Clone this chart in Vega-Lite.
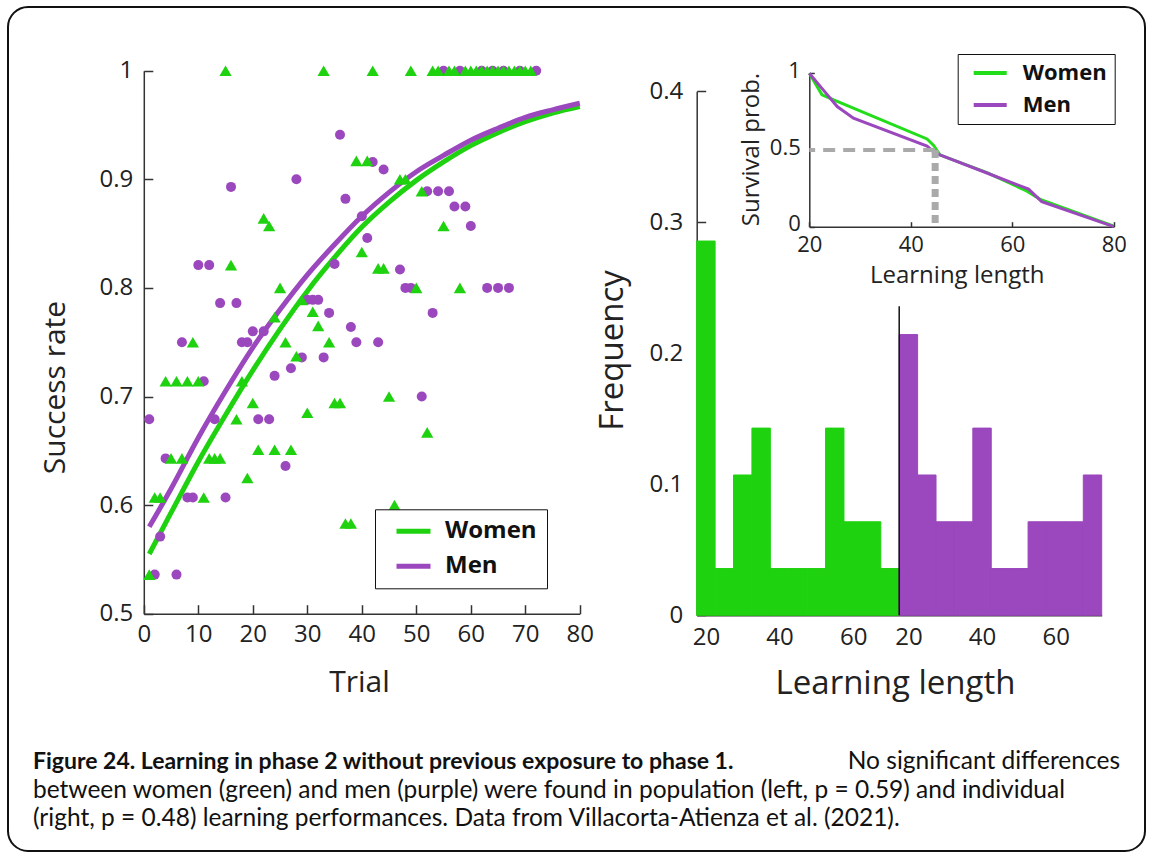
{
  "$schema": "https://vega.github.io/schema/vega-lite/v6.json",
  "width": 1137,
  "height": 844,
  "padding": {"left": 8, "top": 7, "right": 6, "bottom": 5},
  "autosize": "none",
  "background": "white",
  "config": {
    "view": {"stroke": "#111", "strokeWidth": 2, "cornerRadius": 20},
    "axis": {"grid": false, "zindex": 1, "labelFont": "Open Sans", "titleFont": "Open Sans", "labelColor": "#222", "titleColor": "#222", "titleFontWeight": "normal", "domainColor": "#333", "tickColor": "#333", "domainWidth": 1.5, "tickWidth": 1.5, "labelFlush": false, "labelOverlap": false}
  },
  "datasets": {
    "points": [
      {"sex": "Women", "trial": 1, "rate": 0.536}, {"sex": "Women", "trial": 2, "rate": 0.607}, {"sex": "Women", "trial": 3, "rate": 0.607},
      {"sex": "Women", "trial": 4, "rate": 0.714}, {"sex": "Women", "trial": 5, "rate": 0.643}, {"sex": "Women", "trial": 6, "rate": 0.714},
      {"sex": "Women", "trial": 7, "rate": 0.643}, {"sex": "Women", "trial": 8, "rate": 0.714}, {"sex": "Women", "trial": 9, "rate": 0.75},
      {"sex": "Women", "trial": 10, "rate": 0.714}, {"sex": "Women", "trial": 11, "rate": 0.607}, {"sex": "Women", "trial": 12, "rate": 0.643},
      {"sex": "Women", "trial": 13, "rate": 0.643}, {"sex": "Women", "trial": 14, "rate": 0.643}, {"sex": "Women", "trial": 15, "rate": 1.0},
      {"sex": "Women", "trial": 16, "rate": 0.821}, {"sex": "Women", "trial": 17, "rate": 0.679}, {"sex": "Women", "trial": 18, "rate": 0.714},
      {"sex": "Women", "trial": 19, "rate": 0.625}, {"sex": "Women", "trial": 20, "rate": 0.694}, {"sex": "Women", "trial": 21, "rate": 0.651},
      {"sex": "Women", "trial": 22, "rate": 0.864}, {"sex": "Women", "trial": 23, "rate": 0.857}, {"sex": "Women", "trial": 24, "rate": 0.651},
      {"sex": "Women", "trial": 24, "rate": 0.773}, {"sex": "Women", "trial": 25, "rate": 0.8}, {"sex": "Women", "trial": 26, "rate": 0.75},
      {"sex": "Women", "trial": 27, "rate": 0.651}, {"sex": "Women", "trial": 28, "rate": 0.737}, {"sex": "Women", "trial": 29, "rate": 0.789},
      {"sex": "Women", "trial": 30, "rate": 0.685}, {"sex": "Women", "trial": 31, "rate": 0.778}, {"sex": "Women", "trial": 32, "rate": 0.765},
      {"sex": "Women", "trial": 33, "rate": 1.0}, {"sex": "Women", "trial": 34, "rate": 0.75}, {"sex": "Women", "trial": 35, "rate": 0.694},
      {"sex": "Women", "trial": 36, "rate": 0.694}, {"sex": "Women", "trial": 37, "rate": 0.583}, {"sex": "Women", "trial": 38, "rate": 0.583},
      {"sex": "Women", "trial": 39, "rate": 0.917}, {"sex": "Women", "trial": 40, "rate": 0.833}, {"sex": "Women", "trial": 41, "rate": 0.917},
      {"sex": "Women", "trial": 42, "rate": 1.0}, {"sex": "Women", "trial": 43, "rate": 0.818}, {"sex": "Women", "trial": 44, "rate": 0.818},
      {"sex": "Women", "trial": 45, "rate": 0.7}, {"sex": "Women", "trial": 46, "rate": 0.6}, {"sex": "Women", "trial": 47, "rate": 0.9},
      {"sex": "Women", "trial": 48, "rate": 0.9}, {"sex": "Women", "trial": 49, "rate": 1.0}, {"sex": "Women", "trial": 50, "rate": 0.8},
      {"sex": "Women", "trial": 51, "rate": 0.889}, {"sex": "Women", "trial": 52, "rate": 0.667}, {"sex": "Women", "trial": 53, "rate": 1.0},
      {"sex": "Women", "trial": 54, "rate": 1.0}, {"sex": "Women", "trial": 55, "rate": 0.857}, {"sex": "Women", "trial": 56, "rate": 1.0},
      {"sex": "Women", "trial": 57, "rate": 1.0}, {"sex": "Women", "trial": 58, "rate": 0.8}, {"sex": "Women", "trial": 59, "rate": 1.0},
      {"sex": "Women", "trial": 60, "rate": 1.0}, {"sex": "Women", "trial": 61, "rate": 1.0}, {"sex": "Women", "trial": 62, "rate": 1.0},
      {"sex": "Women", "trial": 63, "rate": 1.0}, {"sex": "Women", "trial": 64, "rate": 1.0}, {"sex": "Women", "trial": 65, "rate": 1.0},
      {"sex": "Women", "trial": 66, "rate": 1.0}, {"sex": "Women", "trial": 67, "rate": 1.0}, {"sex": "Women", "trial": 68, "rate": 1.0},
      {"sex": "Women", "trial": 69, "rate": 1.0}, {"sex": "Women", "trial": 70, "rate": 1.0}, {"sex": "Women", "trial": 71, "rate": 1.0},
      {"sex": "Men", "trial": 1, "rate": 0.679}, {"sex": "Men", "trial": 2, "rate": 0.536}, {"sex": "Men", "trial": 3, "rate": 0.571},
      {"sex": "Men", "trial": 4, "rate": 0.643}, {"sex": "Men", "trial": 6, "rate": 0.536}, {"sex": "Men", "trial": 7, "rate": 0.75},
      {"sex": "Men", "trial": 8, "rate": 0.607}, {"sex": "Men", "trial": 9, "rate": 0.607}, {"sex": "Men", "trial": 10, "rate": 0.821},
      {"sex": "Men", "trial": 11, "rate": 0.714}, {"sex": "Men", "trial": 12, "rate": 0.821}, {"sex": "Men", "trial": 13, "rate": 0.679},
      {"sex": "Men", "trial": 14, "rate": 0.786}, {"sex": "Men", "trial": 15, "rate": 0.607}, {"sex": "Men", "trial": 16, "rate": 0.893},
      {"sex": "Men", "trial": 17, "rate": 0.786}, {"sex": "Men", "trial": 18, "rate": 0.75}, {"sex": "Men", "trial": 19, "rate": 0.75},
      {"sex": "Men", "trial": 20, "rate": 0.76}, {"sex": "Men", "trial": 21, "rate": 0.679}, {"sex": "Men", "trial": 22, "rate": 0.76},
      {"sex": "Men", "trial": 23, "rate": 0.679}, {"sex": "Men", "trial": 24, "rate": 0.719}, {"sex": "Men", "trial": 26, "rate": 0.636},
      {"sex": "Men", "trial": 27, "rate": 0.726}, {"sex": "Men", "trial": 28, "rate": 0.9}, {"sex": "Men", "trial": 29, "rate": 0.736},
      {"sex": "Men", "trial": 30, "rate": 0.789}, {"sex": "Men", "trial": 31, "rate": 0.789}, {"sex": "Men", "trial": 32, "rate": 0.789},
      {"sex": "Men", "trial": 33, "rate": 0.736}, {"sex": "Men", "trial": 34, "rate": 0.777}, {"sex": "Men", "trial": 35, "rate": 0.822},
      {"sex": "Men", "trial": 36, "rate": 0.941}, {"sex": "Men", "trial": 37, "rate": 0.882}, {"sex": "Men", "trial": 38, "rate": 0.764},
      {"sex": "Men", "trial": 39, "rate": 0.75}, {"sex": "Men", "trial": 40, "rate": 0.866}, {"sex": "Men", "trial": 41, "rate": 0.846},
      {"sex": "Men", "trial": 42, "rate": 0.916}, {"sex": "Men", "trial": 43, "rate": 0.75}, {"sex": "Men", "trial": 44, "rate": 0.909},
      {"sex": "Men", "trial": 47, "rate": 0.817}, {"sex": "Men", "trial": 48, "rate": 0.8}, {"sex": "Men", "trial": 49, "rate": 0.8},
      {"sex": "Men", "trial": 51, "rate": 0.7}, {"sex": "Men", "trial": 52, "rate": 0.889}, {"sex": "Men", "trial": 53, "rate": 0.777},
      {"sex": "Men", "trial": 54, "rate": 0.889}, {"sex": "Men", "trial": 55, "rate": 1.0}, {"sex": "Men", "trial": 56, "rate": 0.889},
      {"sex": "Men", "trial": 57, "rate": 0.875}, {"sex": "Men", "trial": 58, "rate": 1.0}, {"sex": "Men", "trial": 59, "rate": 0.875},
      {"sex": "Men", "trial": 60, "rate": 0.857}, {"sex": "Men", "trial": 62, "rate": 1.0}, {"sex": "Men", "trial": 63, "rate": 0.8},
      {"sex": "Men", "trial": 64, "rate": 1.0}, {"sex": "Men", "trial": 65, "rate": 0.8}, {"sex": "Men", "trial": 66, "rate": 1.0},
      {"sex": "Men", "trial": 67, "rate": 0.8}, {"sex": "Men", "trial": 69, "rate": 1.0}, {"sex": "Men", "trial": 72, "rate": 1.0}
    ],
    "fit": [
      {"sex": "Women", "trial": 1, "rate": 0.555}, {"sex": "Women", "trial": 5, "rate": 0.593}, {"sex": "Women", "trial": 10, "rate": 0.64},
      {"sex": "Women", "trial": 15, "rate": 0.683}, {"sex": "Women", "trial": 20, "rate": 0.724}, {"sex": "Women", "trial": 25, "rate": 0.762},
      {"sex": "Women", "trial": 30, "rate": 0.797}, {"sex": "Women", "trial": 35, "rate": 0.828}, {"sex": "Women", "trial": 40, "rate": 0.856},
      {"sex": "Women", "trial": 45, "rate": 0.879}, {"sex": "Women", "trial": 50, "rate": 0.899}, {"sex": "Women", "trial": 55, "rate": 0.916},
      {"sex": "Women", "trial": 60, "rate": 0.931}, {"sex": "Women", "trial": 65, "rate": 0.943}, {"sex": "Women", "trial": 70, "rate": 0.953},
      {"sex": "Women", "trial": 75, "rate": 0.961}, {"sex": "Women", "trial": 80, "rate": 0.967},
      {"sex": "Men", "trial": 1, "rate": 0.58}, {"sex": "Men", "trial": 5, "rate": 0.615}, {"sex": "Men", "trial": 10, "rate": 0.662},
      {"sex": "Men", "trial": 15, "rate": 0.705}, {"sex": "Men", "trial": 20, "rate": 0.745}, {"sex": "Men", "trial": 25, "rate": 0.78},
      {"sex": "Men", "trial": 30, "rate": 0.812}, {"sex": "Men", "trial": 35, "rate": 0.84}, {"sex": "Men", "trial": 40, "rate": 0.866},
      {"sex": "Men", "trial": 45, "rate": 0.888}, {"sex": "Men", "trial": 50, "rate": 0.907}, {"sex": "Men", "trial": 55, "rate": 0.922},
      {"sex": "Men", "trial": 60, "rate": 0.936}, {"sex": "Men", "trial": 65, "rate": 0.947}, {"sex": "Men", "trial": 70, "rate": 0.957},
      {"sex": "Men", "trial": 75, "rate": 0.964}, {"sex": "Men", "trial": 80, "rate": 0.97}
    ],
    "hist": [
      {"sex": "Women", "start": 17.5, "end": 22.5, "freq": 0.2857}, {"sex": "Women", "start": 22.5, "end": 27.5, "freq": 0.0357},
      {"sex": "Women", "start": 27.5, "end": 32.5, "freq": 0.1071}, {"sex": "Women", "start": 32.5, "end": 37.5, "freq": 0.1429},
      {"sex": "Women", "start": 37.5, "end": 42.5, "freq": 0.0357}, {"sex": "Women", "start": 42.5, "end": 47.5, "freq": 0.0357},
      {"sex": "Women", "start": 47.5, "end": 52.5, "freq": 0.0357}, {"sex": "Women", "start": 52.5, "end": 57.5, "freq": 0.1429},
      {"sex": "Women", "start": 57.5, "end": 62.5, "freq": 0.0714}, {"sex": "Women", "start": 62.5, "end": 67.5, "freq": 0.0714},
      {"sex": "Women", "start": 67.5, "end": 72.5, "freq": 0.0357},
      {"sex": "Men", "start": 17.5, "end": 22.5, "freq": 0.2143}, {"sex": "Men", "start": 22.5, "end": 27.5, "freq": 0.1071},
      {"sex": "Men", "start": 27.5, "end": 32.5, "freq": 0.0714}, {"sex": "Men", "start": 32.5, "end": 37.5, "freq": 0.0714},
      {"sex": "Men", "start": 37.5, "end": 42.5, "freq": 0.1429}, {"sex": "Men", "start": 42.5, "end": 47.5, "freq": 0.0357},
      {"sex": "Men", "start": 47.5, "end": 52.5, "freq": 0.0357}, {"sex": "Men", "start": 52.5, "end": 57.5, "freq": 0.0714},
      {"sex": "Men", "start": 57.5, "end": 62.5, "freq": 0.0714}, {"sex": "Men", "start": 62.5, "end": 67.5, "freq": 0.0714},
      {"sex": "Men", "start": 67.5, "end": 72.5, "freq": 0.1071}
    ],
    "survival": [
      {"sex": "Women", "length": 20, "prob": 1.0}, {"sex": "Women", "length": 22.5, "prob": 0.86}, {"sex": "Women", "length": 24.8, "prob": 0.826},
      {"sex": "Women", "length": 43.2, "prob": 0.572}, {"sex": "Women", "length": 44.5, "prob": 0.53}, {"sex": "Women", "length": 45.8, "prob": 0.467},
      {"sex": "Women", "length": 55, "prob": 0.352}, {"sex": "Women", "length": 62.9, "prob": 0.232}, {"sex": "Women", "length": 65.5, "prob": 0.178},
      {"sex": "Women", "length": 80, "prob": 0.003},
      {"sex": "Men", "length": 20, "prob": 1.0}, {"sex": "Men", "length": 22.2, "prob": 0.913}, {"sex": "Men", "length": 25.5, "prob": 0.783},
      {"sex": "Men", "length": 28.7, "prob": 0.707}, {"sex": "Men", "length": 43.2, "prob": 0.526}, {"sex": "Men", "length": 44.8, "prob": 0.478},
      {"sex": "Men", "length": 46, "prob": 0.465}, {"sex": "Men", "length": 55, "prob": 0.35}, {"sex": "Men", "length": 63.2, "prob": 0.245},
      {"sex": "Men", "length": 65.8, "prob": 0.163}, {"sex": "Men", "length": 80, "prob": 0.0}
    ],
    "median": [{"median": 44.8, "level": 0.5}],
    "caption": [
      {"segment": "title", "line": 1, "text": "Figure 24. Learning in phase 2 without previous exposure to phase 1."},
      {"segment": "lead", "line": 1, "text": "No significant differences"},
      {"segment": "body", "line": 2, "text": "between women (green) and men (purple) were found in population (left, p = 0.59) and individual"},
      {"segment": "body", "line": 3, "text": "(right, p = 0.48) learning performances. Data from Villacorta-Atienza et al. (2021)."}
    ]
  },
  "layer": [
    {
      "data": {"name": "fit"},
      "mark": {"type": "line", "strokeWidth": 5, "interpolate": "monotone"},
      "encoding": {
        "x": {"field": "trial", "type": "quantitative",
          "scale": {"domain": [0, 80], "range": [135.8, 571.8], "nice": false, "zero": false},
          "axis": {"orient": "bottom", "offset": -237.3, "values": [0, 10, 20, 30, 40, 50, 60, 70, 80], "tickSize": -9, "labelPadding": 18, "labelFontSize": 24,
            "title": "Trial", "titleFontSize": 30, "titleX": 351, "titleY": 69, "titleAlign": "center", "titleBaseline": "middle"}},
        "y": {"field": "rate", "type": "quantitative",
          "scale": {"domain": [0.5, 1], "range": [606.7, 63.7], "nice": false, "zero": false},
          "axis": {"orient": "left", "offset": -135.8, "values": [0.5, 0.6, 0.7, 0.8, 0.9, 1], "format": "~g", "tickSize": -9, "labelPadding": 20, "labelFontSize": 24,
            "title": "Success rate", "titleFontSize": 30, "titleX": -88, "titleY": 380, "titleAngle": -90, "titleAlign": "center", "titleBaseline": "middle"}},
        "color": {"field": "sex", "type": "nominal",
          "scale": {"domain": ["Women", "Men"], "range": ["#1fd20f", "#9b47bd"]},
          "legend": {"orient": "none", "legendX": 367, "legendY": 502.3, "title": null, "symbolType": "stroke", "symbolSize": 1156, "symbolStrokeWidth": 5,
            "labelFont": "Open Sans", "labelFontSize": 24, "labelFontWeight": "bold", "labelColor": "#111", "strokeColor": "#111", "fillColor": "white",
            "clipHeight": 24, "padding": 10, "rowPadding": 11, "labelOffset": 12, "symbolOffset": 9}}
      }
    },
    {
      "data": {"name": "points"},
      "transform": [{"filter": "datum.sex === 'Men'"}],
      "mark": {"type": "point", "shape": "circle", "filled": true, "size": 100, "opacity": 1, "color": "#9b47bd"},
      "encoding": {
        "x": {"field": "trial", "type": "quantitative", "scale": {"domain": [0, 80], "range": [135.8, 571.8], "nice": false, "zero": false}, "axis": null},
        "y": {"field": "rate", "type": "quantitative", "scale": {"domain": [0.5, 1], "range": [606.7, 63.7], "nice": false, "zero": false}, "axis": null}
      }
    },
    {
      "data": {"name": "points"},
      "transform": [{"filter": "datum.sex === 'Women'"}],
      "mark": {"type": "point", "shape": "triangle-up", "filled": true, "size": 150, "opacity": 1, "color": "#1fd20f"},
      "encoding": {
        "x": {"field": "trial", "type": "quantitative", "scale": {"domain": [0, 80], "range": [135.8, 571.8], "nice": false, "zero": false}, "axis": null},
        "y": {"field": "rate", "type": "quantitative", "scale": {"domain": [0.5, 1], "range": [606.7, 63.7], "nice": false, "zero": false}, "axis": null}
      }
    },
    {
      "data": {"name": "hist"},
      "transform": [{"filter": "datum.sex === 'Women'"}],
      "mark": {"type": "rect", "color": "#1fd20f", "stroke": "#1fd20f", "strokeWidth": 1},
      "encoding": {
        "x": {"field": "start", "type": "quantitative",
          "scale": {"domain": [17.5, 72.5], "range": [688.7, 891.2], "nice": false, "zero": false},
          "axis": {"orient": "bottom", "offset": -235.7, "values": [20, 30, 40, 50, 60], "labelExpr": "datum.value % 20 == 0 ? datum.label : ''", "tickSize": -8, "labelPadding": 18, "labelFontSize": 24, "title": null}},
        "x2": {"field": "end"},
        "y": {"field": "freq", "type": "quantitative",
          "scale": {"domain": [0, 0.4], "range": [608.3, 84.3], "nice": false, "zero": false},
          "axis": {"orient": "left", "offset": -688.7, "values": [0, 0.1, 0.2, 0.3, 0.4], "format": "~g", "tickSize": -9, "labelPadding": 23, "labelFontSize": 24,
            "title": "Frequency", "titleFontSize": 33, "titleX": -84.7, "titleY": 343, "titleAngle": -90, "titleAlign": "center", "titleBaseline": "middle"}},
        "y2": {"datum": 0}
      }
    },
    {
      "data": {"name": "hist"},
      "transform": [{"filter": "datum.sex === 'Men'"}],
      "mark": {"type": "rect", "color": "#9b47bd", "stroke": "#9b47bd", "strokeWidth": 1},
      "encoding": {
        "x": {"field": "start", "type": "quantitative",
          "scale": {"domain": [17.5, 72.5], "range": [891.2, 1093.7], "nice": false, "zero": false},
          "axis": {"orient": "bottom", "offset": -235.7, "values": [20, 30, 40, 50, 60], "labelExpr": "datum.value % 20 == 0 ? datum.label : ''", "tickSize": -8, "labelPadding": 18, "labelFontSize": 24,
            "title": "Learning length", "titleFontSize": 33, "titleX": 887, "titleY": 67.7, "titleAlign": "center", "titleBaseline": "middle"}},
        "x2": {"field": "end"},
        "y": {"field": "freq", "type": "quantitative",
          "scale": {"domain": [0, 0.4], "range": [608.3, 84.3], "nice": false, "zero": false},
          "axis": null},
        "y2": {"datum": 0}
      }
    },
    {
      "data": {"name": "hist"},
      "transform": [{"filter": "datum.sex === 'Men' && datum.start === 17.5"}],
      "mark": {"type": "rule", "color": "#111", "strokeWidth": 1.5},
      "encoding": {
        "x": {"field": "start", "type": "quantitative", "scale": {"domain": [17.5, 72.5], "range": [891.2, 1093.7], "nice": false, "zero": false}, "axis": null},
        "y": {"datum": 0.236, "type": "quantitative", "scale": {"domain": [0, 0.4], "range": [608.3, 84.3], "nice": false, "zero": false}, "axis": null},
        "y2": {"datum": 0}
      }
    },
    {
      "data": {"name": "survival"},
      "mark": {"type": "line", "strokeWidth": 3},
      "encoding": {
        "x": {"field": "length", "type": "quantitative",
          "scale": {"domain": [20, 80], "range": [801.3, 1105.8], "nice": false, "zero": false},
          "axis": {"orient": "bottom", "offset": -624.3, "values": [20, 40, 60, 80], "tickSize": -5, "labelPadding": 13, "labelFontSize": 22,
            "title": "Learning length", "titleFontSize": 24, "titleX": 948.7, "titleY": 48.3, "titleAlign": "center", "titleBaseline": "middle"}},
        "y": {"field": "prob", "type": "quantitative",
          "scale": {"domain": [0, 1], "range": [219.7, 66.3], "nice": false, "zero": false},
          "axis": {"orient": "left", "offset": -801.3, "values": [0, 0.5, 1], "format": "~g", "tickSize": -5, "labelPadding": 14, "labelFontSize": 22, "labelOffset": -3,
            "title": "Survival prob.", "titleFontSize": 24, "titleX": -58.3, "titleY": 142, "titleAngle": -90, "titleAlign": "center", "titleBaseline": "middle"}},
        "color": {"field": "sex", "type": "nominal",
          "scale": {"domain": ["Women", "Men"], "range": ["#22dd1a", "#9b47bd"]},
          "legend": {"orient": "none", "legendX": 949.7, "legendY": 47, "title": null, "symbolType": "stroke", "symbolSize": 1089, "symbolStrokeWidth": 4,
            "labelFont": "Open Sans", "labelFontSize": 22, "labelFontWeight": "bold", "labelColor": "#111", "strokeColor": "#111", "fillColor": "white",
            "clipHeight": 22, "padding": 8, "rowPadding": 10, "labelOffset": 14, "symbolOffset": 6}}
      }
    },
    {
      "data": {"name": "median"},
      "mark": {"type": "rule", "color": "#aaaaaa", "strokeWidth": 4, "strokeDash": [12, 8]},
      "encoding": {
        "x": {"field": "median", "type": "quantitative", "scale": {"domain": [20, 80], "range": [801.3, 1105.8], "nice": false, "zero": false}, "axis": null},
        "x2": {"datum": 20},
        "y": {"field": "level", "type": "quantitative", "scale": {"domain": [0, 1], "range": [219.7, 66.3], "nice": false, "zero": false}, "axis": null}
      }
    },
    {
      "data": {"name": "median"},
      "mark": {"type": "rule", "color": "#aaaaaa", "strokeWidth": 7, "strokeDash": [8, 5]},
      "encoding": {
        "x": {"field": "median", "type": "quantitative", "scale": {"domain": [20, 80], "range": [801.3, 1105.8], "nice": false, "zero": false}, "axis": null},
        "y": {"field": "level", "type": "quantitative", "scale": {"domain": [0, 1], "range": [219.7, 66.3], "nice": false, "zero": false}, "axis": null},
        "y2": {"datum": 0}
      }
    },
    {
      "data": {"name": "caption"},
      "transform": [{"filter": "datum.segment === 'title'"}],
      "mark": {"type": "text", "align": "left", "baseline": "middle", "font": "Lato", "fontSize": 23, "fontWeight": "bold", "color": "#111"},
      "encoding": {
        "x": {"datum": 0, "type": "quantitative", "scale": {"domain": [0, 1], "range": [25, 1112], "nice": false, "zero": false}, "axis": null},
        "y": {"field": "line", "type": "quantitative", "scale": {"domain": [1, 3], "range": [755, 812], "nice": false, "zero": false}, "axis": null},
        "text": {"field": "text", "type": "nominal"}
      }
    },
    {
      "data": {"name": "caption"},
      "transform": [{"filter": "datum.segment === 'lead'"}],
      "mark": {"type": "text", "align": "right", "baseline": "middle", "font": "Lato", "fontSize": 24.5, "color": "#111"},
      "encoding": {
        "x": {"datum": 1, "type": "quantitative", "scale": {"domain": [0, 1], "range": [25, 1112], "nice": false, "zero": false}, "axis": null},
        "y": {"field": "line", "type": "quantitative", "scale": {"domain": [1, 3], "range": [755, 812], "nice": false, "zero": false}, "axis": null},
        "text": {"field": "text", "type": "nominal"}
      }
    },
    {
      "data": {"name": "caption"},
      "transform": [{"filter": "datum.segment === 'body'"}],
      "mark": {"type": "text", "align": "left", "baseline": "middle", "font": "Lato", "fontSize": 24.5, "color": "#111"},
      "encoding": {
        "x": {"datum": 0, "type": "quantitative", "scale": {"domain": [0, 1], "range": [25, 1112], "nice": false, "zero": false}, "axis": null},
        "y": {"field": "line", "type": "quantitative", "scale": {"domain": [1, 3], "range": [755, 812], "nice": false, "zero": false}, "axis": null},
        "text": {"field": "text", "type": "nominal"}
      }
    }
  ],
  "resolve": {
    "scale": {"x": "independent", "y": "independent", "color": "independent"},
    "axis": {"x": "independent", "y": "independent"},
    "legend": {"color": "independent"}
  }
}
